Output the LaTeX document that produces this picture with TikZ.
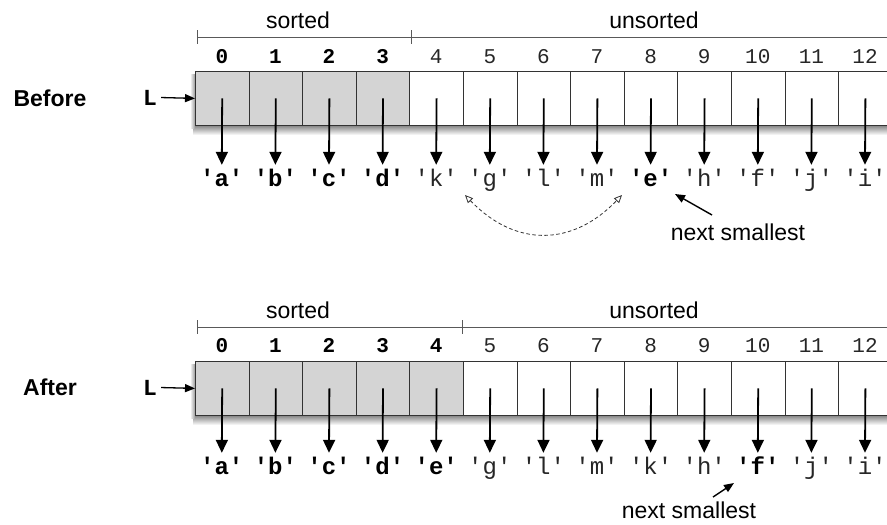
\documentclass[tikz,border=0pt]{standalone}
\usepackage{fontspec}
\setmainfont{Liberation Sans}
\setmonofont{Liberation Mono}
\usetikzlibrary{arrows.meta}
\begin{document}
\begin{tikzpicture}[x=1pt,y=-1pt,
  cellbox/.style={draw=black!80, line width=0.8pt, minimum width=53.6pt, minimum height=54pt, inner sep=0pt, anchor=north west},
  sortedcell/.style={cellbox, fill=black!17},
  plaincell/.style={cellbox, fill=white},
  ridx/.style={font=\ttfamily\fontsize{21}{21}\selectfont, text=black!85, inner sep=0pt, anchor=base},
  bidx/.style={font=\ttfamily\bfseries\fontsize{21}{21}\selectfont, inner sep=0pt, anchor=base},
  rval/.style={font=\ttfamily\fontsize{24}{24}\selectfont, text=black!85, text height=15pt, text depth=5pt, inner xsep=0pt, inner ysep=6pt, anchor=base},
  bval/.style={rval, font=\ttfamily\bfseries\fontsize{24}{24}\selectfont, text=black},
  ptr/.style={-{Triangle[length=13pt,width=12pt]}, line width=1.8pt},
  lptr/.style={-{Triangle[length=10pt,width=8pt]}, line width=1.3pt, shorten <=4pt},
  nxt/.style={-{Triangle[length=10pt,width=8pt]}, line width=1.4pt},
  swaparrow/.style={dashed, dash pattern=on 3.5pt off 2.5pt, line width=0.8pt, draw=black!80, {Triangle[open,length=8pt,width=7pt]}-{Triangle[open,length=8pt,width=7pt]}},
  lbl/.style={font=\fontsize{23}{23}\selectfont, inner sep=0pt, anchor=base},
  blbl/.style={font=\bfseries\fontsize{23}{23}\selectfont, inner sep=0pt, anchor=base},
  lname/.style={font=\ttfamily\bfseries\fontsize{23}{23}\selectfont, inner sep=0pt, anchor=base},
  bracket/.style={draw=black!65, line width=0.9pt}
]
\useasboundingbox (0,0) rectangle (887,525);
\clip (0,0) rectangle (887,525);

% ---------------- Before ----------------
\shade[top color=black!50, bottom color=white] (193,125) rectangle (887,135);
\shade[left color=white, right color=black!40] (190,74) rectangle (195,128);

\node[blbl] (before) at (50,106) {Before};
\node[lname] (L1) at (150,105) {L};

\foreach \i/\v/\cs/\is/\vs in {0/a/sortedcell/bidx/bval, 1/b/sortedcell/bidx/bval, 2/c/sortedcell/bidx/bval, 3/d/sortedcell/bidx/bval,
  4/k/plaincell/ridx/rval, 5/g/plaincell/ridx/rval, 6/l/plaincell/ridx/rval, 7/m/plaincell/ridx/rval, 8/e/plaincell/ridx/bval,
  9/h/plaincell/ridx/rval, 10/f/plaincell/ridx/rval, 11/j/plaincell/ridx/rval, 12/i/plaincell/ridx/rval}{
  \node[\cs] (c\i) at ({195+53.6*\i},71) {};
  \node[\is] (n\i) at ({221.8+53.6*\i},63) {\i};
  \node[\vs] (v\i) at ({221.8+53.6*\i},186) {'\v'};
  \draw[ptr] (c\i.center) -- (v\i.north);
}
\draw[lptr] (L1.east) -- (c0.west);

\coordinate (ta) at (197,37);
\coordinate (tb) at (411,37);
\coordinate (tc) at (887,37);
\draw[bracket] (ta) -- (tc);
\draw[bracket] ([yshift=7pt]ta) -- ([yshift=-7pt]ta);
\draw[bracket] ([yshift=7pt]tb) -- ([yshift=-7pt]tb);
\node[lbl] (s1) at (298,28) {sorted};
\node[lbl] (u1) at (654,28) {unsorted};

\coordinate (sa) at (465,195);
\coordinate (sb) at (622,195);
\draw[swaparrow] (sa) .. controls (515,247) and (572,247) .. (sb);

\node[lbl] (ns1) at (738,240) {next smallest};
\coordinate (ns1tail) at (712,215);
\coordinate (ns1tip) at (675,194);
\draw[nxt] (ns1tail) -- (ns1tip);

% ---------------- After ----------------
\shade[top color=black!50, bottom color=white] (193,415) rectangle (887,425);
\shade[left color=white, right color=black!40] (190,364) rectangle (195,418);

\node[blbl] (after) at (50,395) {After};
\node[lname] (L2) at (150,395) {L};

\foreach \i/\v/\cs/\is/\vs in {0/a/sortedcell/bidx/bval, 1/b/sortedcell/bidx/bval, 2/c/sortedcell/bidx/bval, 3/d/sortedcell/bidx/bval,
  4/e/sortedcell/bidx/bval, 5/g/plaincell/ridx/rval, 6/l/plaincell/ridx/rval, 7/m/plaincell/ridx/rval, 8/k/plaincell/ridx/rval,
  9/h/plaincell/ridx/rval, 10/f/plaincell/ridx/bval, 11/j/plaincell/ridx/rval, 12/i/plaincell/ridx/rval}{
  \node[\cs] (d\i) at ({195+53.6*\i},361) {};
  \node[\is] (m\i) at ({221.8+53.6*\i},352) {\i};
  \node[\vs] (w\i) at ({221.8+53.6*\i},474) {'\v'};
  \draw[ptr] (d\i.center) -- (w\i.north);
}
\draw[lptr] (L2.east) -- (d0.west);

\coordinate (ba) at (197,327);
\coordinate (bb) at (462,327);
\coordinate (bc) at (887,327);
\draw[bracket] (ba) -- (bc);
\draw[bracket] ([yshift=7pt]ba) -- ([yshift=-7pt]ba);
\draw[bracket] ([yshift=7pt]bb) -- ([yshift=-7pt]bb);
\node[lbl] (s2) at (298,318) {sorted};
\node[lbl] (u2) at (654,318) {unsorted};

\node[lbl] (ns2) at (689,518) {next smallest};
\coordinate (ns2tail) at (713,497);
\coordinate (ns2tip) at (734,483);
\draw[nxt] (ns2tail) -- (ns2tip);
\end{tikzpicture}
\end{document}
